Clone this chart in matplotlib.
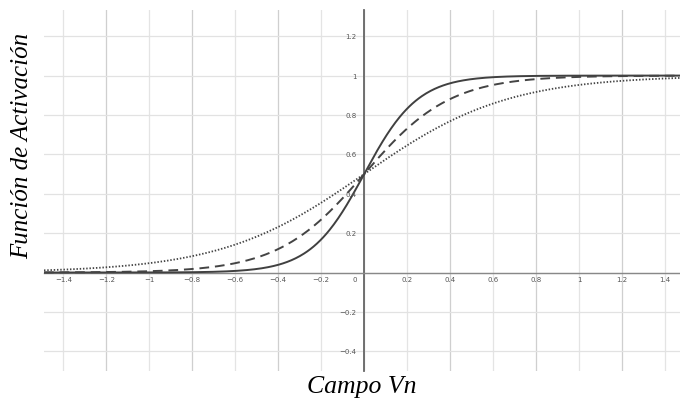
import numpy as np
import matplotlib.pyplot as plt

# slopes of the three logistic activations (solid, dashed, dotted)
slopes = [8, 5, 3]
styles = ['-', '--', ':']
xticks = [-1.4, -1.2, -1, -0.8, -0.6, -0.4, -0.2, 0.2, 0.4, 0.6, 0.8, 1, 1.2, 1.4]
yticks = [-0.4, -0.2, 0.2, 0.4, 0.6, 0.8, 1, 1.2]

fig = plt.figure(figsize=(6.8, 4.02), dpi=100)
ax = fig.add_axes([44/680, 1-372/402, 1-44/680, 361/402])
ax.set_xlim(-1.49, 1.47)
ax.set_ylim(-0.5, 1.333)

# grid every 0.2, a bit darker every 0.4 on x
for xv in np.arange(-1.4, 1.41, 0.2):
    dark = abs(round(xv/0.2)) % 2 == 0
    ax.axvline(xv, color='#cfcfcf' if dark else '#e4e4e4', lw=0.9, zorder=0)
for yv in np.arange(-0.4, 1.21, 0.2):
    ax.axhline(yv, color='#e2e2e2', lw=0.9, zorder=0)

x = np.linspace(-1.49, 1.47, 600)
for a, ls in zip(slopes, styles):
    y = 1 / (1 + np.exp(-a * x))
    if ls == '--':
        ax.plot(x, y, color='#444444', lw=1.4, linestyle=(0, (5, 3)), zorder=3)
    elif ls == ':':
        ax.plot(x, y, color='#444444', lw=1.3, linestyle=(0, (0.8, 1.0)), zorder=3)
    else:
        ax.plot(x, y, color='#404040', lw=1.4, zorder=3)

for s in ['top', 'right']:
    ax.spines[s].set_visible(False)
ax.spines['left'].set_position(('data', 0))
ax.spines['bottom'].set_position(('data', 0))
ax.spines['left'].set_color('#666666')
ax.spines['bottom'].set_color('#888888')
ax.spines['left'].set_linewidth(1.3)
ax.spines['bottom'].set_linewidth(1.0)
ax.set_xticks([])
ax.set_yticks([])

for xv in xticks:
    ax.text(xv, -0.02, str(xv).replace('-', '\u2212'), fontsize=5, color='#555555',
            ha='center', va='top')
ax.text(-0.045, -0.02, '0', fontsize=5, color='#555555', ha='center', va='top')
for yv in yticks:
    ax.text(-0.035, yv, str(yv).replace('-', '\u2212'), fontsize=5, color='#555555',
            ha='right', va='center', zorder=4)

fig.text(22/680, 1-146/402, 'Función de Activación', rotation=90, fontsize=18,
         family='Liberation Serif', style='italic', ha='center', va='center')
fig.text(362/680, 1-387/402, 'Campo Vn', fontsize=18.5,
         family='Liberation Serif', style='italic', ha='center', va='center')

fig.savefig('out.png', dpi=100)
